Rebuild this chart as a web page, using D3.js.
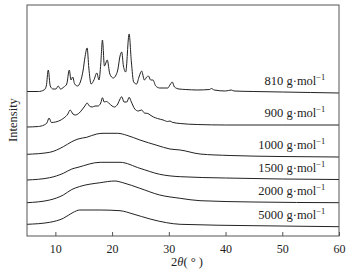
<!DOCTYPE html>
<html>
<head>
<script src="https://d3js.org/d3.v7.min.js"></script>
<style>
  body { margin: 0; background: #fff; }
  text { font-family: "Liberation Serif", "DejaVu Serif", serif; fill: #222; }
</style>
</head>
<body>
<div id="chart"></div>
<script>
// 2θ (deg), intensity (a.u., curves already stacked)
const s810 = [[5,144.5],[7,144.5],[8,146],[8.4,150],[8.75,166],[9.1,150],[9.6,147],[10.1,147],[10.5,150],[10.9,147],
  [11.5,149],[12,152],[12.46,166],[12.75,156],[13.05,159],[13.4,152],[13.9,150],[14.4,154],[14.9,166],[15.2,178],
  [15.6,188],[15.9,168],[16.3,152],[16.8,156],[17.3,163],[17.7,156],[18,172],[18.3,196],[18.65,170],[19.15,176],
  [19.6,162],[20.2,158],[20.6,160],[21,166],[21.4,180],[21.7,184],[22,170],[22.4,164],[23,202],[23.4,174],
  [23.8,154],[24.3,152],[24.8,160],[25.2,165],[25.7,156],[26.1,159],[26.4,160],[26.8,156],[27.2,156],[27.7,150],
  [28.4,148],[29.2,148],[29.8,148],[30.3,152],[30.6,154],[31,149],[31.8,147],[33,146.5],[35,146],[37.2,146.5],
  [37.5,147.5],[38,146],[40,145],[41,146],[41.5,145],[45,144.5],[50,144],[55,143.5],[60,143]];
const s900 = [[5,109],[7,109.5],[8,111],[8.5,113],[8.9,118],[9.3,113.5],[10,114],[10.6,115],[11.5,118],[12.2,122],
  [12.6,126],[13.1,122],[13.5,121],[14.2,123],[14.8,127],[15.2,130],[15.6,133],[16,130],[16.5,129],[17,130],
  [17.5,130],[18,133],[18.3,138.3],[18.6,134],[19,134.5],[19.4,133],[20,130],[20.4,129],[21,132],[21.4,137],
  [21.7,139.3],[22.1,134],[22.6,134],[23,138.7],[23.4,134],[24,127],[24.6,125],[25.2,126],[25.7,123],[26.3,122.5],
  [26.7,121],[27.3,119],[28,117.5],[29,116],[29.8,114.5],[30.2,115],[30.6,113.7],[32,112.5],[35,111.5],[40,111],
  [50,111],[60,111]];
const s1000 = [[5,81.7],[9,83.7],[11.4,89.3],[12.9,94.3],[14,97],[15.5,98.7],[17.3,102],[18.4,102.7],[21,102.7],
  [22.6,100.7],[24.9,96],[27.9,90.7],[30.2,87],[32,86],[35.5,82],[40.8,80.5],[49.6,79.5],[60,79]];
const s1500 = [[5,56],[9,58.3],[11.4,62.7],[12.9,67],[14,68.7],[17.9,73.7],[21.4,73.7],[24.9,67.7],[28.4,61.7],
  [32,59.3],[40,58],[50,57],[60,56.5]];
const s2000 = [[5,33.3],[9,36],[11.4,41],[12.9,46.5],[14.3,49.5],[17.9,53.3],[20.5,55],[21.9,53.3],[24.9,47.7],
  [28.4,41],[32,37.7],[35.5,35.3],[45,34],[60,33.3]];
const s5000 = [[5,11.7],[9,13.7],[11.4,17.7],[13.1,23.5],[14.3,26],[17.9,26],[21.4,25.3],[23.7,22],[26.7,17],
  [29.6,13.3],[32,11.7],[45,10.3],[60,9.3]];

const series = [s810, s900, s1000, s1500, s2000, s5000];
const labels = ['810', '900', '1000', '1500', '2000', '5000'];
const xTicks = [10, 20, 30, 40, 50, 60];

const W = 361, H = 272;
const m = {left: 27, right: 22, top: 5, bottom: 36};

const svg = d3.select('#chart').append('svg')
  .attr('width', W).attr('height', H);

const x = d3.scaleLinear().domain([5, 60]).range([m.left, W - m.right]);
const y = d3.scaleLinear().domain([0, 231]).range([H - m.bottom, m.top]);

const line = d3.line()
  .x(d => x(d[0]))
  .y(d => y(d[1]))
  .curve(d3.curveMonotoneX);

svg.selectAll('path.curve')
  .data(series)
  .enter()
  .append('path')
  .attr('class', 'curve')
  .attr('d', line)
  .attr('fill', 'none')
  .attr('stroke', '#222')
  .attr('stroke-width', 1);

// frame
svg.append('rect')
  .attr('x', m.left).attr('y', m.top)
  .attr('width', W - m.left - m.right)
  .attr('height', H - m.top - m.bottom)
  .attr('fill', 'none')
  .attr('stroke', '#555')
  .attr('stroke-width', 1);

const xAxis = d3.axisBottom(x)
  .tickValues(xTicks)
  .tickSizeInner(-4)
  .tickSizeOuter(0)
  .tickPadding(8);

const gx = svg.append('g')
  .attr('transform', 'translate(0,' + (H - m.bottom) + ')')
  .call(xAxis);
gx.select('.domain').remove();
gx.selectAll('.tick line').attr('stroke', '#555');
gx.selectAll('.tick text')
  .attr('font-size', 12)
  .attr('fill', '#222')
  .style('font-family', '"Liberation Serif", serif');

// curve labels
const lab = svg.selectAll('text.lab')
  .data(series)
  .enter()
  .append('text')
  .attr('class', 'lab')
  .attr('x', x(57.6))
  .attr('y', d => y(d[d.length - 1][1]) - 8)
  .attr('text-anchor', 'end')
  .attr('font-size', 12.5);
lab.append('tspan').text((d, i) => labels[i] + ' g·mol');
lab.append('tspan').attr('dy', -5).attr('font-size', 8.5).text('−1');

// axis titles
const xt = svg.append('text')
  .attr('x', 187).attr('y', 266)
  .attr('text-anchor', 'middle')
  .attr('font-size', 12.5);
xt.append('tspan').text('2');
xt.append('tspan').attr('font-style', 'italic').text('θ');
xt.append('tspan').text('( ° )');

svg.append('text')
  .attr('transform', 'translate(17,' + 120 + ') rotate(-90)')
  .attr('text-anchor', 'middle')
  .attr('font-size', 12.5)
  .text('Intensity');
</script>
</body>
</html>
